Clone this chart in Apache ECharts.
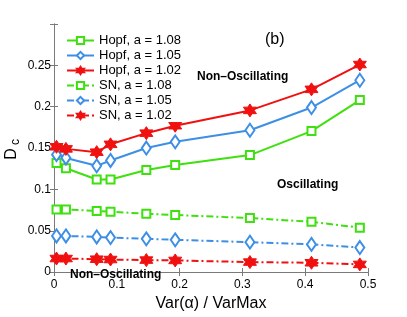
<!DOCTYPE html>
<html><head><meta charset="utf-8">
<script src="https://cdn.jsdelivr.net/npm/echarts@6/dist/echarts.min.js"></script>
<style>html,body{margin:0;padding:0;background:#fff}#c{width:407px;height:317px}</style>
</head><body><div id="c"></div>
<script>
const xVals = [0.004, 0.019, 0.068, 0.090, 0.147, 0.193, 0.312, 0.410, 0.487];
const hopf108 = [0.132, 0.1255, 0.112, 0.112, 0.1235, 0.1295, 0.1415, 0.1705, 0.208];
const hopf105 = [0.142, 0.138, 0.1285, 0.135, 0.150, 0.1575, 0.1715, 0.199, 0.232];
const hopf102 = [0.1515, 0.149, 0.145, 0.1545, 0.168, 0.177, 0.1955, 0.221, 0.251];
const sn108 = [0.0756, 0.0756, 0.074, 0.073, 0.0706, 0.069, 0.0654, 0.0608, 0.0537];
const sn105 = [0.0437, 0.0437, 0.0425, 0.0417, 0.0402, 0.039, 0.0362, 0.0335, 0.0297];
const sn102 = [0.0164, 0.0164, 0.0156, 0.0152, 0.0145, 0.0141, 0.0121, 0.0113, 0.0093];
const seriesNames = ['Hopf, a = 1.08','Hopf, a = 1.05','Hopf, a = 1.02','SN, a = 1.08','SN, a = 1.05','SN, a = 1.02'];
const xTicks = [0, 0.1, 0.2, 0.3, 0.4, 0.5];
const yTickLabels = ['0','0.05','0.1','0.15','0.2','0.25'];

const GREEN = '#3fe010', BLUE = '#3d8fe6', RED = '#f01010';
// six-pointed star symbol path
function hexagram(){
  let p = [];
  for (let i = 0; i < 12; i++) {
    const a = -Math.PI/2 + i*Math.PI/6;
    const r = (i % 2 === 0) ? 10 : 5.8;
    p.push((10 + r*Math.cos(a)).toFixed(2) + ',' + (10 + r*Math.sin(a)).toFixed(2));
  }
  return 'path://M' + p.join('L') + 'Z';
}
const STAR = hexagram();
const dashDot = [7, 3, 2, 3];

function mk(name, ys, color, solid, symbol, size, filled){
  return {
    name: name, type: 'line', data: xVals.map((x,i)=>[x, ys[i]]),
    symbol: symbol, symbolSize: size, showSymbol: true,
    lineStyle: {color: color, width: 2, type: solid ? 'solid' : dashDot},
    itemStyle: {color: filled ? color : '#fff', borderColor: color, borderWidth: filled ? 1 : 2},
    emphasis: {disabled: true}, animation: false, z: 3
  };
}

const chart = echarts.init(document.getElementById('c'), null, {renderer: 'canvas'});
const axisLine = {show: true, lineStyle: {color: '#7a7a7a', width: 1}};
const font = 'Liberation Sans';
chart.setOption({
  animation: false,
  grid: {left: 54, right: 39, top: 24, bottom: 36, containLabel: false},
  legend: {
    show: true, orient: 'vertical', left: 66, top: 34, itemWidth: 27, itemHeight: 9, itemGap: 2,
    data: seriesNames, backgroundColor: '#fff', padding: [0, 4, 0, 0],
    textStyle: {fontFamily: font, fontSize: 13, lineHeight: 13, color: '#000'}
  },
  xAxis: [{
    type: 'value', min: 0, max: 0.5, interval: 0.1, position: 'bottom',
    axisLine: axisLine, axisTick: {show: true, inside: true, length: 4, lineStyle: {color: '#7a7a7a'}},
    splitLine: {show: false},
    axisLabel: {fontFamily: font, fontSize: 12, color: '#000', margin: 7,
      formatter: v => { const i = xTicks.findIndex(t => Math.abs(t - v) < 1e-9); return i >= 0 ? String(xTicks[i]) : ''; }},
    name: 'Var(α) / VarMax', nameLocation: 'middle', nameGap: 23,
    nameTextStyle: {fontFamily: font, fontSize: 16, color: '#000'}
  }, {
    type: 'value', min: 0, max: 0.5, interval: 0.1, position: 'top',
    axisLine: axisLine, axisTick: {show: true, inside: true, length: 4, lineStyle: {color: '#7a7a7a'}},
    axisLabel: {show: false}, splitLine: {show: false}
  }],
  yAxis: [{
    type: 'value', min: 0, max: 0.3, interval: 0.05, position: 'left',
    axisLine: axisLine, axisTick: {show: true, inside: true, length: 4, lineStyle: {color: '#7a7a7a'}},
    splitLine: {show: false},
    axisLabel: {fontFamily: font, fontSize: 12, color: '#000', margin: 3,
      formatter: v => { const i = Math.round(v / 0.05); return (Math.abs(v - i*0.05) < 1e-9 && i < yTickLabels.length) ? yTickLabels[i] : ''; }}
  }, {
    type: 'value', min: 0, max: 0.3, interval: 0.05, position: 'right',
    axisLine: axisLine, axisTick: {show: true, inside: true, length: 4, lineStyle: {color: '#7a7a7a'}},
    axisLabel: {show: false}, splitLine: {show: false}
  }],
  series: [
    mk(seriesNames[0], hopf108, GREEN, true, 'rect', 8, false),
    mk(seriesNames[1], hopf105, BLUE, true, 'diamond', [9, 13], false),
    mk(seriesNames[2], hopf102, RED, true, STAR, 13, true),
    mk(seriesNames[3], sn108, GREEN, false, 'rect', 8, false),
    mk(seriesNames[4], sn105, BLUE, false, 'diamond', [9, 13], false),
    mk(seriesNames[5], sn102, RED, false, STAR, 13, true)
  ],
  graphic: [
    {type: 'text', left: 265, top: 32, style: {text: '(b)', fontFamily: font, fontSize: 16, fill: '#000'}},
    {type: 'text', left: 197, top: 71, style: {text: 'Non\u2013Oscillating', fontFamily: font, fontSize: 12, fontWeight: 'bold', fill: '#000'}},
    {type: 'text', left: 277, top: 179, style: {text: 'Oscillating', fontFamily: font, fontSize: 12, fontWeight: 'bold', fill: '#000'}},
    {type: 'text', left: 70, top: 269, z: 10, style: {text: 'Non\u2013Oscillating', fontFamily: font, fontSize: 12, fontWeight: 'bold', fill: '#000'}},
    {type: 'text', x: 12, y: 154, rotation: Math.PI/2, style: {text: 'D', fontFamily: font, fontSize: 16, fill: '#000', align: 'center', verticalAlign: 'middle'}},
    {type: 'text', x: 16, y: 142, rotation: Math.PI/2, style: {text: 'c', fontFamily: font, fontSize: 12, fill: '#000', align: 'center', verticalAlign: 'middle'}}
  ]
});
</script></body></html>
